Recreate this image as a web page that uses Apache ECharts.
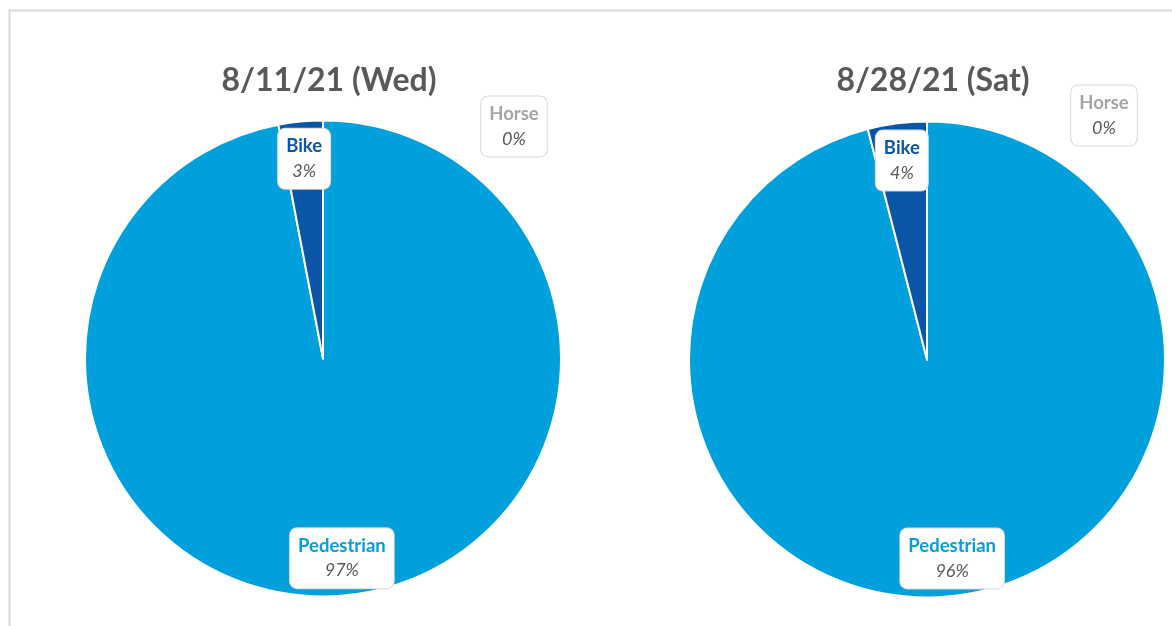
<!DOCTYPE html>
<html>
<head>
<meta charset="utf-8">
<script src="https://cdn.jsdelivr.net/npm/echarts@6/dist/echarts.min.js"></script>
<style>
  html, body { margin: 0; padding: 0; background: #ffffff; }
  #chart { width: 1172px; height: 626px; }
</style>
</head>
<body>
<div id="chart"></div>
<script>
// Trail counts by mode of travel, shown as shares of all users per day
const categories = ['Pedestrian', 'Bike', 'Horse'];
const wedValues = [97, 3, 0];
const satValues = [96, 4, 0];
const dayTitles = ['8/11/21 (Wed)', '8/28/21 (Sat)'];

const sliceColors = ['#00A0DC', '#0B55A6', '#A5A5A5'];
const FONT = 'Lato, "Open Sans", sans-serif';

function pieData(values) {
  return categories.map((name, i) => ({
    name: name,
    value: values[i],
    itemStyle: { color: sliceColors[i] }
  }));
}

// Label boxes: name in the slice colour, percentage in grey italics
function labelData(values) {
  return categories.map((name, i) => ({
    name: name,
    value: values[i],
    label: {
      rich: {
        n: { fontFamily: FONT, fontWeight: 'bold', fontSize: 18.5, color: sliceColors[i], lineHeight: 25, align: 'center' },
        v: { fontFamily: FONT, fontStyle: 'italic', fontSize: 18, color: '#595959', lineHeight: 25, align: 'center' }
      }
    }
  }));
}

const R = 238;
const centers = [[323, 358.5], [927, 359.5]];
const horseShift = [[191, -31.5], [177, -43.5]];
const dayValues = [wedValues, satValues];

const series = [];
dayValues.forEach((vals, k) => {
  // the visible pie
  series.push({
    type: 'pie',
    center: centers[k],
    radius: [0, R],
    startAngle: 90,
    clockwise: true,
    silent: true,
    label: { show: false },
    labelLine: { show: false },
    itemStyle: { borderColor: '#ffffff', borderWidth: 2 },
    data: pieData(vals)
  });
  // transparent ring that carries the data labels near the rim
  series.push({
    type: 'pie',
    center: centers[k],
    radius: [R * 0.66, R],
    startAngle: 90,
    clockwise: true,
    silent: true,
    percentPrecision: 0,
    itemStyle: { color: 'rgba(0,0,0,0)', borderWidth: 0 },
    labelLine: { show: false },
    label: {
      show: true,
      position: 'inside',
      formatter: '{n|{b}}\n{v|{d}%}',
      backgroundColor: '#ffffff',
      borderColor: '#D9D9D9',
      borderWidth: 1,
      borderRadius: 7,
      padding: [5, 8, 5, 8]
    },
    labelLayout: function (p) {
      if (p.dataIndex === 2) {
        return { dx: horseShift[k][0], dy: horseShift[k][1] };
      }
      return {};
    },
    data: labelData(vals)
  });
});

const chart = echarts.init(document.getElementById('chart'), null, { renderer: 'canvas' });
chart.setOption({
  backgroundColor: '#ffffff',
  animation: false,
  title: dayTitles.map((t, k) => ({
    text: t,
    left: centers[k][0] + 1,
    top: 60,
    textAlign: 'center',
    textStyle: { fontFamily: FONT, fontWeight: 'bold', fontSize: 32, color: '#595959' }
  })),
  graphic: [{
    type: 'rect',
    silent: true,
    shape: { x: 9.5, y: 10.5, width: 1300, height: 800 },
    style: { fill: 'none', stroke: '#D9D9D9', lineWidth: 2 }
  }],
  series: series
});
</script>
</body>
</html>
